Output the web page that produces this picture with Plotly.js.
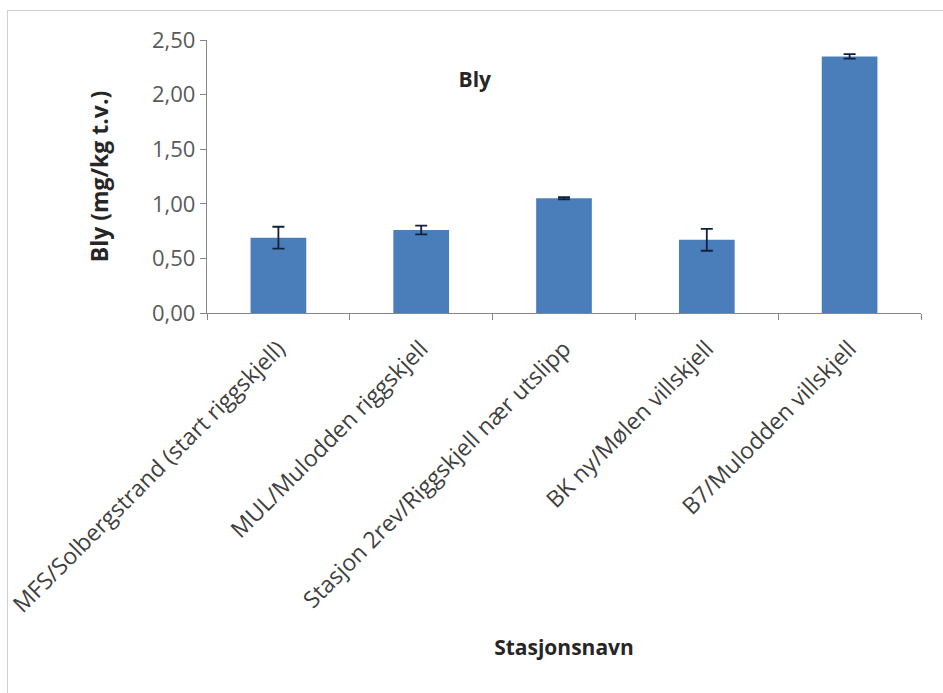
<!DOCTYPE html>
<html>
<head>
<meta charset="utf-8">
<script src="https://cdn.plot.ly/plotly-3.0.1.min.js"></script>
<style>
  html, body { margin: 0; padding: 0; background: #fff; overflow: hidden; }
  #wrap { position: relative; width: 943px; height: 693px; overflow: hidden; }
  #chart { width: 943px; height: 693px; }
  #frame { position: absolute; left: 7px; top: 10px; width: 980px; height: 740px;
           border: 1.5px solid #d0d0d0; pointer-events: none; box-sizing: border-box; }
</style>
</head>
<body>
<div id="wrap">
  <div id="chart"></div>
  <div id="frame"></div>
</div>
<script>
const categories = [
  "MFS/Solbergstrand (start riggskjell)",
  "MUL/Mulodden riggskjell",
  "Stasjon 2rev/Riggskjell nær utslipp",
  "BK ny/Mølen villskjell",
  "B7/Mulodden villskjell"
];
const values = [0.69, 0.76, 1.05, 0.67, 2.35];
const errors = [0.10, 0.04, 0.01, 0.10, 0.02];
const yTicks = [0, 0.5, 1.0, 1.5, 2.0, 2.5];

const font = "'Open Sans', 'Noto Sans', sans-serif";

const trace = {
  type: 'bar',
  x: categories,
  y: values,
  marker: { color: '#4a7ebb', line: { width: 0 } },
  error_y: { type: 'data', array: errors, visible: true, color: '#10203f', thickness: 1.8, width: 6 },
  hoverinfo: 'x+y'
};

const layout = {
  width: 943, height: 693,
  margin: { l: 207, r: 22, t: 40, b: 380 },
  paper_bgcolor: '#ffffff', plot_bgcolor: '#ffffff',
  separators: ',.',
  bargap: 0.61,
  showlegend: false,
  font: { family: font, color: '#404040' },
  title: {
    text: '<b>Bly</b>',
    font: { family: font, size: 21, color: '#262626' },
    xref: 'paper', yref: 'paper', x: 0.375, y: 0.853, xanchor: 'center', yanchor: 'middle'
  },
  xaxis: {
    type: 'category',
    tickangle: -45,
    tickfont: { family: font, size: 23, color: '#404040' },
    ticklabelstandoff: 12,
    showline: true, linecolor: '#868686', linewidth: 1.2,
    ticks: 'outside', ticklen: 6, tickcolor: '#868686', tickson: 'boundaries',
    showgrid: false, zeroline: false,
    title: { text: '<b>Stasjonsnavn</b>', font: { family: font, size: 21, color: '#262626' }, standoff: 22 }
  },
  yaxis: {
    range: [0, 2.5],
    tickvals: yTicks,
    tickformat: '.2f',
    tickfont: { family: font, size: 22, color: '#595959' },
    showline: true, linecolor: '#868686', linewidth: 1.2,
    ticks: 'outside', ticklen: 6, tickcolor: '#868686',
    showgrid: false, zeroline: false,
    title: { text: '<b>Bly (mg/kg t.v.)</b>', font: { family: font, size: 23, color: '#262626' }, standoff: 37 }
  }
};

Plotly.newPlot('chart', [trace], layout, { displayModeBar: false, staticPlot: true });
</script>
</body>
</html>
